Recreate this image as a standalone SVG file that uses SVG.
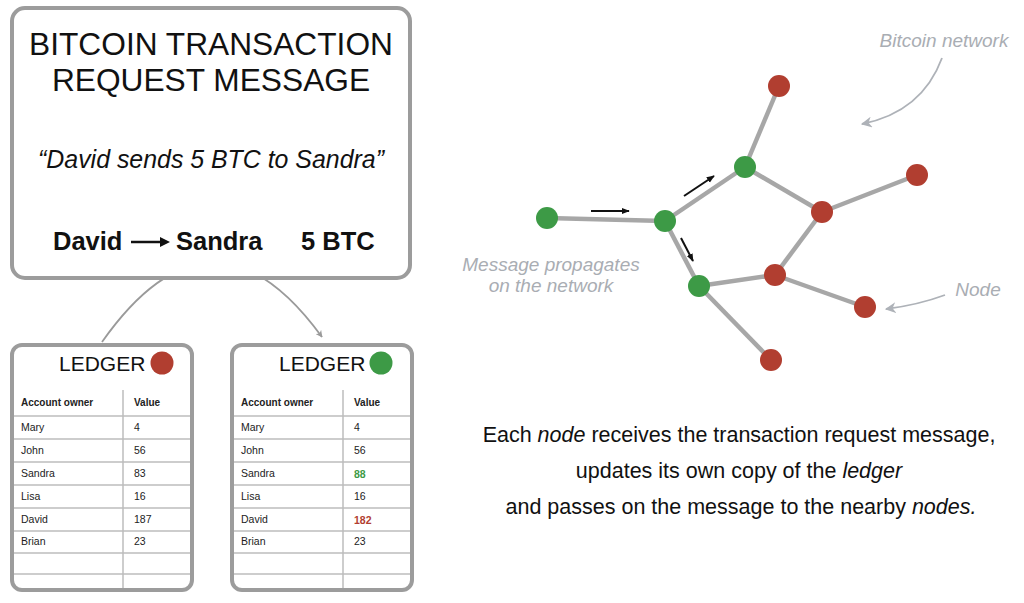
<svg xmlns="http://www.w3.org/2000/svg" width="1024" height="603" viewBox="0 0 1024 603">
<defs>
<style>
.box{fill:#fff;stroke:#9c9c9c;stroke-width:4}
.t{font-family:"Liberation Sans",Arial,sans-serif;fill:#111}
.it{font-style:italic}
.b{font-weight:bold}
.gray{fill:#a9adb3}
.edge{stroke:#a7a7a7;stroke-width:4.5;fill:none}
.grid{stroke:#bdbdbd;stroke-width:1.5;fill:none}
.red{fill:#b13e30}
.green{fill:#3d9a46}
.cell{font-family:"Liberation Sans",Arial,sans-serif;font-size:10.5px;fill:#222}
.hd{font-size:10px;font-weight:bold}
.ann{stroke:#aeb2b8;stroke-width:1.8;fill:none}
</style>
<marker id="ga" viewBox="0 0 10 10" refX="9" refY="5" markerWidth="7" markerHeight="7" orient="auto" markerUnits="userSpaceOnUse">
<path d="M0,0 L10,5 L0,10 L3,5 z" fill="#9a9a9a"/>
</marker>
<marker id="la" viewBox="0 0 10 10" refX="9" refY="5" markerWidth="11" markerHeight="11" orient="auto" markerUnits="userSpaceOnUse">
<path d="M0,0 L10,5 L0,10 L3,5 z" fill="#aeb2b8"/>
</marker>
<marker id="ba" viewBox="0 0 10 10" refX="9" refY="5" markerWidth="8" markerHeight="8" orient="auto" markerUnits="userSpaceOnUse">
<path d="M0,1 L10,5 L0,9 z" fill="#111"/>
</marker>
</defs>
<rect width="1024" height="603" fill="#fff"/>

<g id="connectors">
<path d="M102,342 Q212,186 322,337" stroke="#9a9a9a" stroke-width="1.8" fill="none" marker-end="url(#ga)"/>
<line class="edge" x1="547" y1="218" x2="665" y2="221"/>
<line class="edge" x1="665" y1="221" x2="745" y2="167"/>
<line class="edge" x1="745" y1="167" x2="779" y2="86"/>
<line class="edge" x1="745" y1="167" x2="822" y2="212"/>
<line class="edge" x1="822" y1="212" x2="917" y2="175"/>
<line class="edge" x1="822" y1="212" x2="775" y2="275"/>
<line class="edge" x1="775" y1="275" x2="699" y2="286"/>
<line class="edge" x1="699" y1="286" x2="665" y2="221"/>
<line class="edge" x1="775" y1="275" x2="865" y2="307"/>
<line class="edge" x1="699" y1="286" x2="771" y2="360"/>
<line x1="591" y1="211" x2="629" y2="211" stroke="#111" stroke-width="2" marker-end="url(#ba)"/>
<line x1="684" y1="196" x2="714" y2="176" stroke="#111" stroke-width="2" marker-end="url(#ba)"/>
<line x1="681" y1="238" x2="693" y2="261" stroke="#111" stroke-width="2" marker-end="url(#ba)"/>
<path class="ann" d="M942,58 Q922,112 862,124" marker-end="url(#la)"/>
<path class="ann" d="M945,295 Q918,305 886,309" marker-end="url(#la)"/>
</g>

<g id="message">
<rect class="box" x="12" y="8" width="398" height="270" rx="13"/>
<text class="t" x="211" y="55" font-size="31.7" text-anchor="middle">BITCOIN TRANSACTION</text>
<text class="t" x="211" y="91" font-size="31.7" text-anchor="middle">REQUEST MESSAGE</text>
<text class="t it" x="211" y="168" font-size="24.9" text-anchor="middle">“David sends 5 BTC to Sandra”</text>
<text class="t b" x="53" y="250" font-size="25.5">David</text>
<line x1="131" y1="242" x2="162" y2="242" stroke="#111" stroke-width="2.5"/>
<path d="M160,237 L170,242 L160,247 z" fill="#111"/>
<text class="t b" x="176" y="250" font-size="25.5">Sandra</text>
<text class="t b" x="301" y="250" font-size="25.5">5 BTC</text>
</g>

<g id="ledger-red">
<rect class="box" x="12" y="345" width="180" height="245" rx="10"/>
<text class="t" x="59" y="371" font-size="21">LEDGER</text>
<circle class="red" cx="162" cy="363" r="11.5"/>
<path class="grid" d="M123,390 V588 M14,416 H190 M14,439 H190 M14,462 H190 M14,485 H190 M14,508 H190 M14,531 H190 M14,553 H190 M14,574 H190"/>
<text class="cell hd" x="21" y="406">Account owner</text><text class="cell hd" x="134" y="406">Value</text>
<text class="cell" x="21" y="431">Mary</text><text class="cell" x="134" y="431">4</text>
<text class="cell" x="21" y="454">John</text><text class="cell" x="134" y="454">56</text>
<text class="cell" x="21" y="477">Sandra</text><text class="cell" x="134" y="477">83</text>
<text class="cell" x="21" y="500">Lisa</text><text class="cell" x="134" y="500">16</text>
<text class="cell" x="21" y="523">David</text><text class="cell" x="134" y="523">187</text>
<text class="cell" x="21" y="545">Brian</text><text class="cell" x="134" y="545">23</text>
</g>

<g id="ledger-green">
<rect class="box" x="232" y="345" width="180" height="245" rx="10"/>
<text class="t" x="279" y="371" font-size="21">LEDGER</text>
<circle class="green" cx="381" cy="363" r="11.5"/>
<path class="grid" d="M343,390 V588 M234,416 H410 M234,439 H410 M234,462 H410 M234,485 H410 M234,508 H410 M234,531 H410 M234,553 H410 M234,574 H410"/>
<text class="cell hd" x="241" y="406">Account owner</text><text class="cell hd" x="354" y="406">Value</text>
<text class="cell" x="241" y="431">Mary</text><text class="cell" x="354" y="431">4</text>
<text class="cell" x="241" y="454">John</text><text class="cell" x="354" y="454">56</text>
<text class="cell" x="241" y="477">Sandra</text><text class="cell b" x="354" y="478" style="fill:#3d9a46">88</text>
<text class="cell" x="241" y="500">Lisa</text><text class="cell" x="354" y="500">16</text>
<text class="cell" x="241" y="523">David</text><text class="cell b" x="354" y="524" style="fill:#b13e30">182</text>
<text class="cell" x="241" y="545">Brian</text><text class="cell" x="354" y="545">23</text>
</g>

<g id="nodes">
<g id="node-a"><circle class="green" cx="547" cy="218" r="11"/></g>
<g id="node-b"><circle class="green" cx="665" cy="221" r="11"/></g>
<g id="node-c"><circle class="green" cx="745" cy="167" r="11"/></g>
<g id="node-top"><circle class="red" cx="779" cy="86" r="11"/></g>
<g id="node-d"><circle class="red" cx="822" cy="212" r="11"/></g>
<g id="node-right"><circle class="red" cx="917" cy="175" r="11"/></g>
<g id="node-e"><circle class="green" cx="699" cy="286" r="11"/></g>
<g id="node-f"><circle class="red" cx="775" cy="275" r="11"/></g>
<g id="node-g"><circle class="red" cx="865" cy="307" r="11"/></g>
<g id="node-bottom"><circle class="red" cx="771" cy="360" r="11"/></g>
</g>

<g id="labels">
<text class="t it gray" x="944" y="47" font-size="19" text-anchor="middle">Bitcoin network</text>
<text class="t it gray" x="551" y="271" font-size="19" text-anchor="middle">Message propagates</text>
<text class="t it gray" x="551" y="292" font-size="19" text-anchor="middle">on the network</text>
<text class="t it gray" x="978" y="296" font-size="19" text-anchor="middle">Node</text>
<text class="t" x="739" y="442" font-size="21.5" text-anchor="middle">Each <tspan class="it">node</tspan> receives the transaction request message,</text>
<text class="t" x="739" y="478" font-size="21.5" text-anchor="middle">updates its own copy of the <tspan class="it">ledger</tspan></text>
<text class="t" x="741" y="514" font-size="21.5" text-anchor="middle">and passes on the message to the nearby <tspan class="it">nodes.</tspan></text>
</g>
</svg>
